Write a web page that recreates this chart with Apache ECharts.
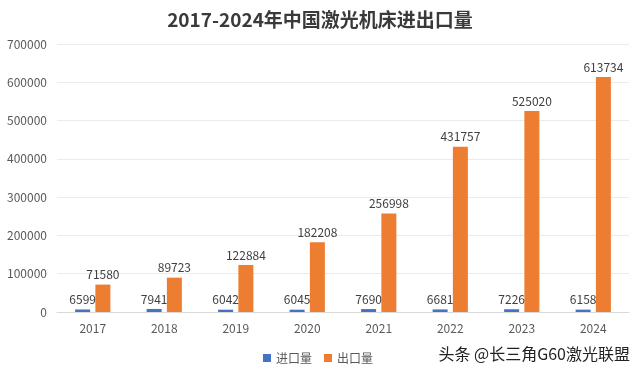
<!DOCTYPE html>
<html><head><meta charset="utf-8">
<script src="https://cdn.jsdelivr.net/npm/echarts@6/dist/echarts.min.js"></script>
<style>html,body{margin:0;padding:0;background:#fff}#c{width:640px;height:375px}</style>
</head><body><div id="c"></div>
<script>
const years = ['2017','2018','2019','2020','2021','2022','2023','2024'];
const importVals = [6599, 7941, 6042, 6045, 7690, 6681, 7226, 6158];
const exportVals = [71580, 89723, 122884, 182208, 256998, 431757, 525020, 613734];
const seriesNames = ['进口量','出口量'];
const font = '"Noto Sans CJK SC","Noto Sans",sans-serif';
const chart = echarts.init(document.getElementById('c'));
chart.setOption({
  backgroundColor:'#fff',
  animation:false,
  textStyle:{fontFamily:font},
  title:{text:'2017-2024年中国激光机床进出口量',left:'center',top:5,
    textStyle:{fontSize:19,fontWeight:'bold',color:'#3A3A3A',fontFamily:font}},
  legend:{data:seriesNames,left:258,top:347,itemWidth:8,itemHeight:8,itemGap:12,icon:'rect',
    textStyle:{fontSize:12,color:'#595959'}},
  grid:{left:57,right:11,top:44,bottom:63,containLabel:false},
  xAxis:{type:'category',data:years,
    axisLine:{lineStyle:{color:'#D9D9D9'}},axisTick:{show:false},
    axisLabel:{color:'#595959',fontSize:12,margin:10}},
  yAxis:{type:'value',min:0,max:700000,interval:100000,
    axisLine:{show:false},axisTick:{show:false},
    splitLine:{lineStyle:{color:'#EBEBEB'}},
    axisLabel:{color:'#595959',fontSize:12,margin:10,formatter:v=>String(v)}},
  series:[
    {name:seriesNames[0],type:'bar',data:importVals,barWidth:15,barGap:'35%',
      itemStyle:{color:'#4472C4'},
      label:{show:true,position:'top',color:'#404040',fontSize:12,distance:4}},
    {name:seriesNames[1],type:'bar',data:exportVals,barWidth:15,
      itemStyle:{color:'#ED7D31'},
      label:{show:true,position:'top',color:'#404040',fontSize:12,distance:4}}
  ],
  graphic:[{type:'text',right:10,top:346,style:{text:'头条 @长三角G60激光联盟',
    fill:'#222',font:'16px "Noto Sans CJK SC",sans-serif'}}]
});
</script></body></html>
